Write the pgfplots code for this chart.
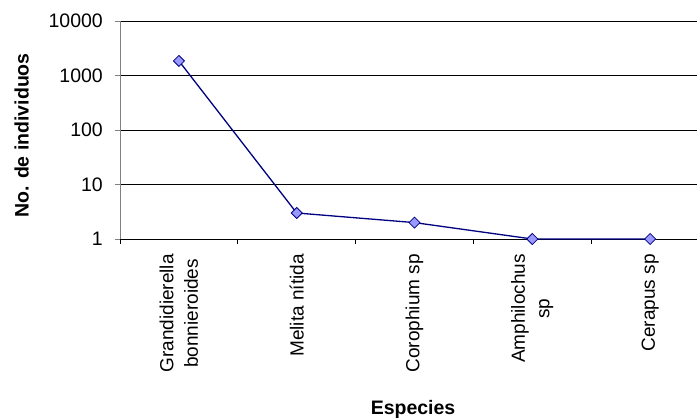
\documentclass[border=0pt]{standalone}
\usepackage{pgfplots}
\pgfplotsset{compat=1.18}
\usepackage{fontspec}
\setmainfont{Liberation Sans}
\definecolor{navyline}{RGB}{0,0,128}
\definecolor{markfill}{RGB}{153,153,255}
\definecolor{axgray}{RGB}{128,128,128}
\begin{document}
\begin{tikzpicture}[x=1bp,y=1bp]
\path[use as bounding box] (0,0) rectangle (697,419);
\clip (0,0) rectangle (697,419);
\begin{axis}[
  at={(120bp,180bp)}, anchor=south west,
  scale only axis, width=589bp, height=218bp,
  xmin=-0.5, xmax=4.5, ymode=log, ymin=1, ymax=10000,
  clip=false,
  axis x line*=bottom, axis y line*=left,
  x axis line style={black, line width=0.8bp},
  y axis line style={axgray, line width=0.8bp},
  xtick={-0.5,0.5,1.5,2.5,3.5,4.5},
  x tick label as interval,
  xticklabels={{Grandidierella\\bonnieroides},{Melita nítida},{Corophium sp},{Amphilochus\\sp},{Cerapus sp}},
  xtick style={black, line width=0.8bp},
  ytick={1,10,100,1000,10000},
  yticklabels={1,10,100,1000,10000},
  ytick style={axgray, line width=0.8bp},
  yminorticks=false,
  tick align=outside,
  major tick length=5bp,
  ymajorgrids,
  major grid style={black, line width=0.8bp},
  xticklabel style={rotate=90, anchor=east, align=center, font=\fontsize{19bp}{24.5bp}\selectfont, inner sep=0pt, xshift=-10bp},
  yticklabel style={font=\fontsize{19.5bp}{23bp}\selectfont, anchor=east, inner sep=0pt, xshift=-12bp},
  xlabel={Especies},
  ylabel={No. de individuos},
  xlabel style={font=\bfseries\fontsize{19.5bp}{23bp}\selectfont, at={(axis description cs:0.4975,-0.8028)}, anchor=base},
  ylabel style={font=\bfseries\fontsize{19.5bp}{23bp}\selectfont, at={(axis description cs:-0.155,0.475)}, anchor=base, rotate=0},
]
\addplot[color=navyline, line width=1.3bp, mark=square*, mark size=3.9bp,
  mark options={rotate=45, fill=markfill, draw=navyline, line width=0.8bp}]
  coordinates {(0,1850) (1,3) (2,2) (3,1) (4,1)};
\end{axis}
\end{tikzpicture}
\end{document}
